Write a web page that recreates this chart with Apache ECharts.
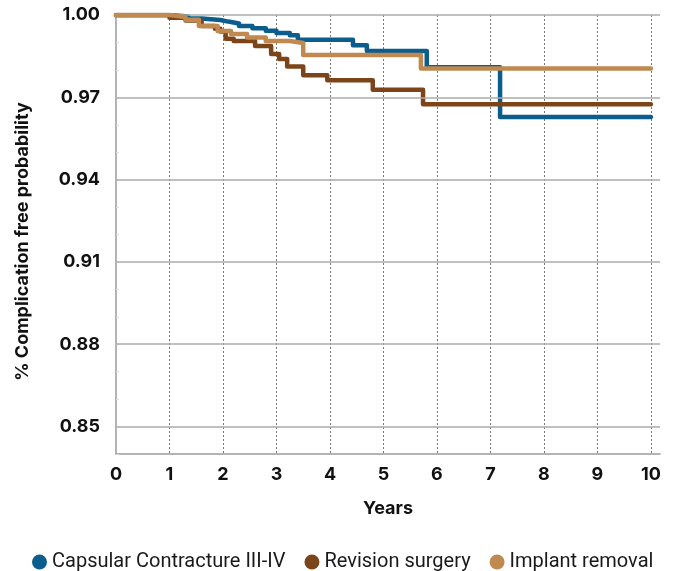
<!DOCTYPE html>
<html>
<head>
<meta charset="utf-8">
<script src="https://cdn.jsdelivr.net/npm/echarts@6/dist/echarts.min.js"></script>
<style>
  html, body { margin: 0; padding: 0; background: #fff; }
  #chartContainer { width: 675px; height: 571px; }
</style>
</head>
<body>
<div id="chartContainer"></div>
<script>
// 曲线数据 [年, 概率]
var capsularData = [
	[0, 1.000], [1.0, 0.9995], [1.35, 0.9987], [1.6, 0.9982], [1.95, 0.9976],
	[2.1, 0.9969], [2.3, 0.9960], [2.55, 0.9952], [2.8, 0.9943], [3.0, 0.9934],
	[3.25, 0.9926], [3.4, 0.9910], [4.43, 0.9890], [4.69, 0.9869], [5.81, 0.9810],
	[7.18, 0.9628], [10, 0.9628]
];
var revisionData = [
	[0, 1.000], [1.0, 0.9990], [1.3, 0.9980], [1.6, 0.9960], [1.85, 0.9950],
	[1.95, 0.9940], [2.05, 0.9913], [2.2, 0.9905], [2.6, 0.9887], [2.9, 0.9858],
	[3.05, 0.9840], [3.2, 0.9812], [3.5, 0.9780], [3.95, 0.9762], [4.8, 0.9728],
	[5.74, 0.9675], [10, 0.9675]
];
var removalData = [
	[0, 1.000], [1.0, 0.9993], [1.3, 0.9983], [1.55, 0.9960], [1.9, 0.9942],
	[2.15, 0.9931], [2.45, 0.9918], [2.8, 0.9905], [3.25, 0.9898], [3.5, 0.9854],
	[5.7, 0.9805], [10, 0.9805]
];
var seriesNames = ['Capsular Contracture III-IV', 'Revision surgery', 'Implant removal'];
var seriesColors = ['#0b5d8d', '#7c4519', '#bf8950'];
var yGridValues = [0.85, 0.88, 0.91, 0.94, 0.97, 1.00];

var kmChart = {
	/**
	 * 生成单条曲线
	 */
	buildLine: function (idx, data) {
		return {
			name: seriesNames[idx],
			type: 'line',
			step: 'end',
			data: data,
			symbol: 'none',
			z: 3 + idx,
			itemStyle: { color: seriesColors[idx] },
			lineStyle: { color: seriesColors[idx], width: 4.5, cap: 'round', join: 'round' }
		};
	},
	showChart: function () {
		var myChart = echarts.init(document.getElementById('chartContainer'));
		var option = {
			animation: false,
			textStyle: { fontFamily: 'Inter, Roboto, sans-serif' },
			grid: { left: 116, top: 15, right: 15, bottom: 117 },
			legend: {
				top: 552,
				left: 32,
				padding: 0,
				icon: 'circle',
				itemWidth: 15,
				itemHeight: 15,
				itemGap: 19,
				itemSpacing: 5,
				data: seriesNames,
				textStyle: { fontSize: 20, color: '#1a1a1a', fontFamily: 'Roboto, sans-serif' }
			},
			xAxis: {
				type: 'value',
				min: 0,
				max: 10.17,
				interval: 1,
				name: 'Years',
				nameLocation: 'middle',
				nameGap: 46,
				nameTextStyle: { fontSize: 18, fontWeight: 'bold', color: '#111' },
				axisLine: { show: true, lineStyle: { color: '#9a9a9a', width: 1.5 } },
				axisTick: { show: false },
				axisLabel: {
					fontSize: 18, fontWeight: 'bold', color: '#111', margin: 12,
					showMaxLabel: false,
					formatter: function (v) { return Math.abs(v - Math.round(v)) < 1e-6 ? String(Math.round(v)) : ''; }
				},
				splitLine: {
					show: true, showMinLine: false, showMaxLine: false,
					lineStyle: { color: '#777', width: 1, type: [2, 2] }
				}
			},
			yAxis: {
				type: 'value',
				min: 0.84,
				max: 1.00,
				interval: 0.01,
				name: '% Complication free probability',
				nameLocation: 'middle',
				nameGap: 84,
				nameTextStyle: { fontSize: 18, fontWeight: 'bold', color: '#111', padding: [0, 14, 0, 0] },
				axisLine: { show: true, lineStyle: { color: '#9a9a9a', width: 1.5 } },
				axisTick: { show: true, inside: true, length: 3, lineStyle: { color: '#ddd' } },
				axisLabel: {
					fontSize: 18, fontWeight: 'bold', color: '#111', margin: 16,
					formatter: function (v) {
						var r = Math.round(v * 100);
						return (r >= 85 && (r - 85) % 3 === 0) ? v.toFixed(2) : '';
					}
				},
				splitLine: { show: false }
			},
			series: [
				{
					name: 'grid',
					type: 'line',
					data: [],
					z: 1,
					markLine: {
						silent: true,
						symbol: ['none', 'none'],
						label: { show: false },
						lineStyle: { color: '#ababab', width: 1.5, type: 'solid' },
						data: yGridValues.map(function (v) { return { yAxis: v }; })
					}
				},
				kmChart.buildLine(0, capsularData),
				kmChart.buildLine(1, revisionData),
				kmChart.buildLine(2, removalData)
			]
		};
		myChart.setOption(option);
	}
};

kmChart.showChart();
</script>
</body>
</html>
